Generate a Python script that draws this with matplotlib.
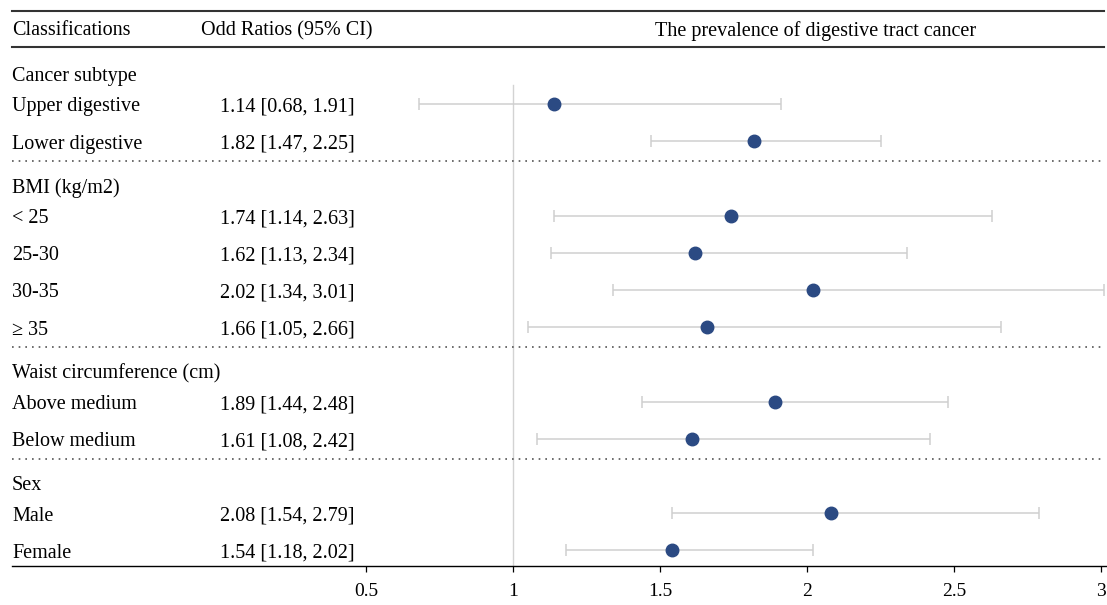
import numpy as np
import matplotlib
matplotlib.use("Agg")
import matplotlib.pyplot as plt

plt.rcParams['font.family'] = ['Liberation Serif', 'DejaVu Serif']

# groups and rows of the forest plot
groups = ["Cancer subtype", "BMI (kg/m2)", "Waist circumference (cm)", "Sex"]
row_labels = [
    ["Upper digestive", "Lower digestive"],
    ["< 25", "25-30", "30-35", "\u2265 35"],
    ["Above medium", "Below medium"],
    ["Male", "Female"],
]
odds = [[1.14, 1.82], [1.74, 1.62, 2.02, 1.66], [1.89, 1.61], [2.08, 1.54]]
lower = [[0.68, 1.47], [1.14, 1.13, 1.34, 1.05], [1.44, 1.08], [1.54, 1.18]]
upper = [[1.91, 2.25], [2.63, 2.34, 3.01, 2.66], [2.48, 2.42], [2.79, 2.02]]
xticks = [0.5, 1, 1.5, 2, 2.5, 3]

W, H = 1107, 605
fig = plt.figure(figsize=(W / 100, H / 100), dpi=100)
# axes bottom sits on the x axis line (566 px from top)
ax = fig.add_axes([0, (H - 566) / H, 1, 566 / H])

# pixel -> data mapping: 1 at 513 px, 294 px per unit
x_left = 1 - 513 / 294
x_right = 1 + (W - 513) / 294
ax.set_xlim(x_left, x_right)
pitch = 37.2
ax.set_ylim((566 - 104) / pitch, -104 / pitch)

fs = 14.5
ytr = ax.get_yaxis_transform()
lx = 12 / W
cx = 287 / W
dy = 0.08  # text sits a touch below the marker centre

# header
hy = (28 - 104) / pitch + dy
ax.text(lx, hy, "Classifications", transform=ytr, fontsize=fs, va='center', ha='left')
ax.text(cx, hy, "Odd Ratios (95% CI)", transform=ytr, fontsize=fs, va='center', ha='center')
ax.text(816 / W, hy, "The prevalence of digestive tract cancer", transform=ytr,
        fontsize=fs, va='center', ha='center')
for yy in [(11 - 104) / pitch, (47 - 104) / pitch]:
    ax.axhline(yy, xmin=12 / W, xmax=1104 / W, color='#333333', lw=1.5)

# reference line at OR = 1
ax.plot([1, 1], [(85 - 104) / pitch, (566 - 104) / pitch], color='#d3d3d3', lw=1.0, zorder=1)

slot = 0
for g, name in enumerate(groups):
    ax.text(lx, slot - 0.82 + dy, name, transform=ytr, fontsize=fs, va='center', ha='left')
    ys = []
    for i, lab in enumerate(row_labels[g]):
        ys.append(slot)
        ax.text(lx, slot + dy, lab, transform=ytr, fontsize=fs, va='center', ha='left')
        ax.text(cx, slot + dy, "%.2f [%.2f, %.2f]" % (odds[g][i], lower[g][i], upper[g][i]),
                transform=ytr, fontsize=fs, va='center', ha='center')
        slot += 1
    o = np.array(odds[g])
    err = np.array([o - np.array(lower[g]), np.array(upper[g]) - o])
    ax.errorbar(o, ys, xerr=err, fmt='o', color='#2b4a83', ms=9, mec='#2b4a83',
                ecolor='#cfcfcf', elinewidth=1.1, capsize=4.3, capthick=1.1, zorder=3)
    if g < len(groups) - 1:
        ax.axhline(slot - 0.47, xmin=12 / W, xmax=1102 / W, color='#555555',
                   lw=1.2, linestyle=(0, (1, 3)))
    slot += 1

# x axis
for s in ['top', 'left', 'right']:
    ax.spines[s].set_visible(False)
ax.spines['bottom'].set_bounds(1 - 501 / 294, x_right)
ax.spines['bottom'].set_linewidth(1.0)
ax.set_yticks([])
ax.set_xticks(xticks)
ax.set_xticklabels([("%g" % t) for t in xticks])
ax.tick_params(axis='x', direction='out', length=4.5, width=0.9, labelsize=14, pad=8)

plt.savefig("out.png", dpi=100)
